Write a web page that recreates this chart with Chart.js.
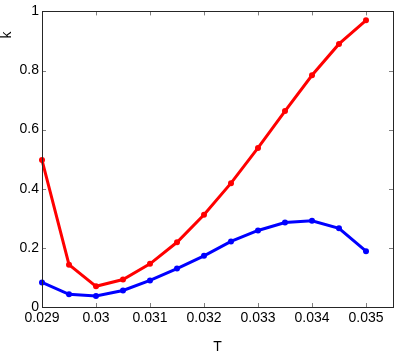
<!DOCTYPE html>
<html>
<head>
<meta charset="utf-8">
<script src="https://cdn.jsdelivr.net/npm/chart.js@4"></script>
<style>
  html, body { margin: 0; padding: 0; background: #fff; }
  #wrap { width: 399px; height: 354px; }
</style>
</head>
<body>
<div id="wrap"><canvas id="kChart"></canvas></div>
<script>
// data
const tValues = [0.029, 0.0295, 0.030, 0.0305, 0.031, 0.0315, 0.032, 0.0325, 0.033, 0.0335, 0.034, 0.0345, 0.035];
const redK  = [0.497, 0.143, 0.070, 0.093, 0.146, 0.219, 0.312, 0.419, 0.538, 0.663, 0.784, 0.890, 0.970];
const blueK = [0.083, 0.043, 0.037, 0.056, 0.090, 0.130, 0.173, 0.222, 0.259, 0.286, 0.292, 0.266, 0.189];
const xTicks = [0.029, 0.030, 0.031, 0.032, 0.033, 0.034, 0.035];
const yTicks = [0, 0.2, 0.4, 0.6, 0.8, 1];

const FONT = 'Liberation Sans, Arial, Helvetica, sans-serif';
const AXIS_COLOR = '#262626';

// MATLAB style: ticks pointing inward on all four sides, box, and the y label near the top
const inwardTicks = {
  id: 'inwardTicks',
  afterDraw(chart) {
    const { ctx, chartArea: a, scales: { x, y } } = chart;
    const len = 4;
    ctx.save();
    ctx.strokeStyle = '#808080';
    ctx.lineWidth = 1;
    ctx.beginPath();
    xTicks.forEach(v => {
      const px = Math.round(x.getPixelForValue(v)) + 0.5;
      ctx.moveTo(px, a.bottom); ctx.lineTo(px, a.bottom - len);
      ctx.moveTo(px, a.top); ctx.lineTo(px, a.top + len);
    });
    yTicks.forEach(v => {
      const py = Math.round(y.getPixelForValue(v)) + 0.5;
      ctx.moveTo(a.left, py); ctx.lineTo(a.left + len, py);
      ctx.moveTo(a.right, py); ctx.lineTo(a.right - len, py);
    });
    ctx.stroke();
    ctx.strokeStyle = AXIS_COLOR;
    ctx.strokeRect(Math.round(a.left) + 0.5, Math.round(a.top) + 0.5,
      Math.round(a.right - a.left), Math.round(a.bottom - a.top));

    // y axis label "k"
    ctx.translate(7, 35);
    ctx.rotate(-Math.PI / 2);
    ctx.fillStyle = '#000';
    ctx.font = '14px ' + FONT;
    ctx.textAlign = 'center';
    ctx.textBaseline = 'middle';
    ctx.fillText('k', 0, 0);
    ctx.restore();
  }
};

const toPoints = arr => arr.map((k, i) => ({ x: tValues[i], y: k }));

new Chart(document.getElementById('kChart'), {
  type: 'line',
  data: {
    datasets: [{
      label: 'red',
      data: toPoints(redK),
      borderColor: '#ff0000',
      backgroundColor: '#ff0000',
      borderWidth: 3,
      pointRadius: 3,
      pointHoverRadius: 3,
      pointBorderWidth: 0,
      tension: 0,
      clip: false
    }, {
      label: 'blue',
      data: toPoints(blueK),
      borderColor: '#0000ff',
      backgroundColor: '#0000ff',
      borderWidth: 3,
      pointRadius: 3,
      pointHoverRadius: 3,
      pointBorderWidth: 0,
      tension: 0,
      clip: false
    }]
  },
  options: {
    responsive: true,
    maintainAspectRatio: false,
    animation: false,
    layout: { padding: { top: 6, right: 6, left: 0, bottom: 0 } },
    plugins: {
      legend: { display: false },
      tooltip: { enabled: false }
    },
    scales: {
      x: {
        type: 'linear',
        min: 0.029,
        max: 0.0355,
        afterBuildTicks: s => { s.ticks = xTicks.map(v => ({ value: v })); },
        afterFit: s => { s.height = 47; },
        ticks: {
          color: '#000',
          font: { family: FONT, size: 14 },
          padding: 3,
          maxRotation: 0,
          autoSkip: false,
          callback: v => String(Number(v.toFixed(3)))
        },
        grid: { display: false, drawTicks: false },
        border: { display: false },
        title: {
          display: true,
          text: 'T',
          color: '#000',
          font: { family: FONT, size: 14, lineHeight: 1 },
          padding: { top: 0, bottom: 0 }
        }
      },
      y: {
        min: 0,
        max: 1,
        afterBuildTicks: s => { s.ticks = yTicks.map(v => ({ value: v })); },
        afterFit: s => { s.width = 42; },
        ticks: {
          color: '#000',
          font: { family: FONT, size: 14 },
          padding: 3,
          callback: v => String(Number(v.toFixed(1)))
        },
        grid: { display: false, drawTicks: false },
        border: { display: false }
      }
    }
  },
  plugins: [inwardTicks]
});
</script>
</body>
</html>
